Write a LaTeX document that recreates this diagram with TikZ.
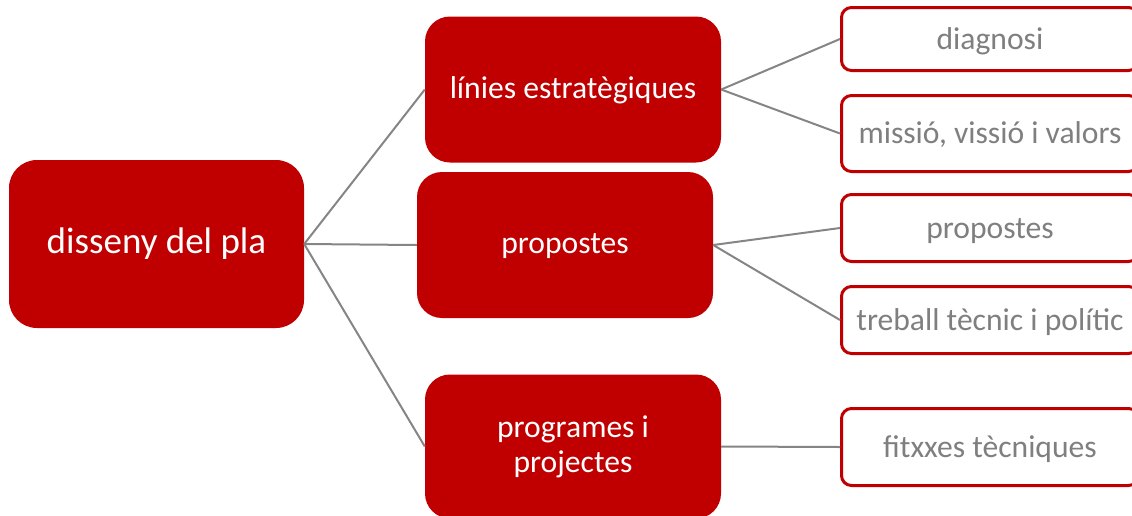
\documentclass[tikz,border=0pt]{standalone}
\usepackage{fontspec}
\setmainfont{Carlito}
\definecolor{planred}{HTML}{C00000}
\definecolor{linkgrey}{HTML}{858585}
\definecolor{leafgrey}{HTML}{7F7F7F}

\begin{document}
\begin{tikzpicture}[
    x=1pt, y=-1pt,
    plan/.style={
      fill=planred, 
      text=white, 
      minimum width=295pt, 
      minimum height=168pt, 
      align=center, 
      rounded corners=28pt,
      text height=26pt,
      text depth=7.4pt,
      font=\fontsize{37}{42}\selectfont
    },
    branch/.style={
      fill=planred, 
      text=white, 
      minimum width=296pt, 
      minimum height=146pt, 
      align=center, 
      rounded corners=25pt,
      text height=24pt,
      text depth=6.4pt,
      font=\fontsize{31.6}{35}\selectfont
    },
    leaf/.style={
      draw=planred, 
      line width=3pt, 
      fill=white, 
      text=leafgrey, 
      minimum width=297pt, 
      align=center, 
      rounded corners=10pt,
      inner sep=2pt,
      text height=25pt,
      text depth=5pt,
      font=\fontsize{31.6}{35}\selectfont
    },
    link/.style={
      draw=linkgrey, 
      line width=2pt
    }
]
\useasboundingbox (0,0) rectangle (1132,515);
\clip (0,0) rectangle (1132,515);

% Root
\node (disseny) [plan] at (156.5,244) {disseny del pla};

% Level 2
\node (linies) [branch] at (573,89.5) {línies estratègiques};
\node (propostes) [branch] at (565,245) {propostes};
\node (programes) [branch, minimum height=144pt, text height=, text depth=] at (573,446.5) {programes i\\projectes};

\draw [link] (disseny.east) -- (linies.west);
\draw [link] (disseny.east) -- (propostes.west);
\draw [link] (disseny.east) -- (programes.west);

% Level 3: línies estratègiques
\node (diagnosi) [leaf, minimum height=63pt] at (990,39) {diagnosi};
\node (missio) [leaf, minimum height=76pt] at (990,133.5) {missió, vissió i valors};
\draw [link] (linies.east) -- (diagnosi.west);
\draw [link] (linies.east) -- (missio.west);

% Level 3: propostes
\node (props) [leaf, minimum height=67pt] at (990,228) {propostes};
\node (treball) [leaf, minimum height=67pt] at (990,320) {treball tècnic i polític};
\draw [link] (propostes.east) -- (props.west);
\draw [link] (propostes.east) -- (treball.west);

% Level 3: programes i projectes
\node (fitxes) [leaf, minimum height=77pt] at (990,447) {fitxxes tècniques};
\draw [link] (programes.east) -- (fitxes.west);

\end{tikzpicture}
\end{document}
